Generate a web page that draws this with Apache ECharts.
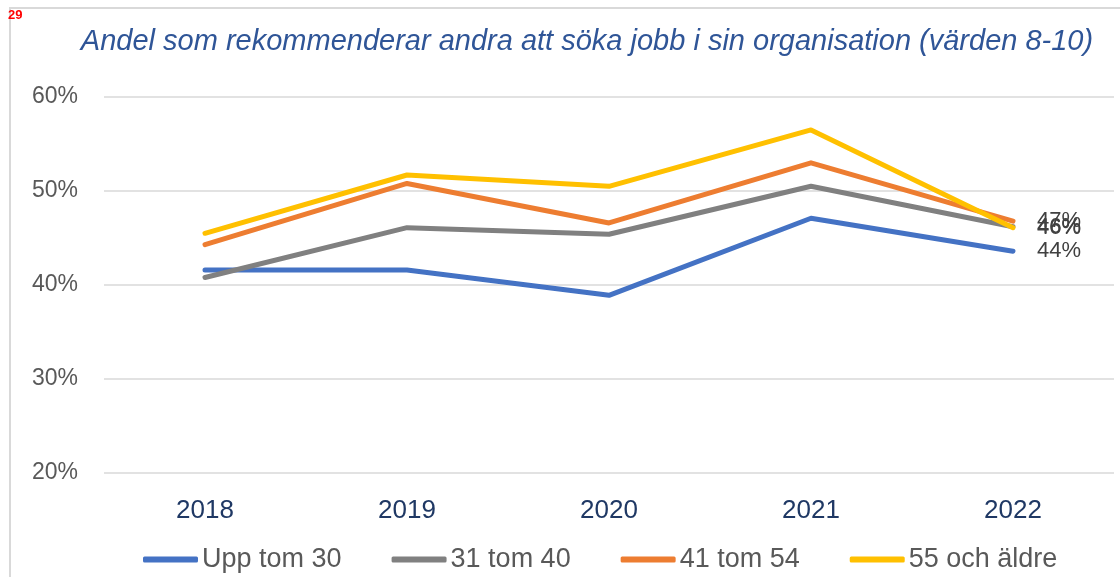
<!DOCTYPE html>
<html>
<head>
<meta charset="utf-8">
<script src="https://cdn.jsdelivr.net/npm/echarts@6/dist/echarts.min.js"></script>
<style>
  html, body { margin: 0; padding: 0; background: #fff; }
  #chart { width: 1120px; height: 577px; }
</style>
</head>
<body>
<div id="chart"></div>
<script>
// data
const years = ['2018', '2019', '2020', '2021', '2022']
const seriesNames = ['Upp tom 30', '31 tom 40', '41 tom 54', '55 och äldre']
const upptom30 = [41.6, 41.6, 38.9, 47.1, 43.6]
const tom40 = [40.8, 46.1, 45.4, 50.5, 46.2]
const tom54 = [44.3, 50.8, 46.6, 53.0, 46.8]
const aldre55 = [45.5, 51.7, 50.5, 56.5, 46.1]
const yTicks = [20, 30, 40, 50, 60]

const colors = ['#4472C4', '#808080', '#ED7D31', '#FFC000']
const FONT = '"Liberation Sans", Arial, sans-serif'

const chart = echarts.init(document.getElementById('chart'))

const makeSeries = (name, vals, color) => ({
  name: name,
  type: 'line',
  data: vals,
  symbol: 'none',
  lineStyle: { width: 5, color: color, cap: 'round', join: 'round' },
  itemStyle: { color: color },
  // value label only at the last point
  endLabel: {
    show: true,
    distance: 24,
    fontFamily: FONT,
    fontSize: 22,
    color: '#404040',
    formatter: (p) => Math.round(p.value) + '%'
  },
  labelLayout: { hideOverlap: false },
  emphasis: { disabled: true }
})

const option = {
  animation: false,
  color: colors,
  graphic: [
    {
      type: 'rect',
      z: -1,
      shape: { x: 10, y: 8, width: 1200, height: 700 },
      style: { fill: 'none', stroke: '#D9D9D9', lineWidth: 2 }
    },
    {
      type: 'text',
      style: {
        x: 8, y: 9, text: '29',
        font: 'bold 13px ' + FONT,
        fill: '#FF0000'
      }
    },
    {
      type: 'text',
      style: {
        x: 587, y: 42,
        text: 'Andel som rekommenderar andra att söka jobb i sin organisation (värden 8-10)',
        align: 'center',
        verticalAlign: 'middle',
        font: 'italic 29px ' + FONT,
        fill: '#2F5597'
      }
    }
  ],
  legend: {
    data: seriesNames,
    left: 138,
    top: 541,
    icon: 'roundRect',
    itemWidth: 55,
    itemHeight: 6,
    itemGap: 50,
    textStyle: { fontFamily: FONT, fontSize: 27, color: '#595959', padding: [0, 0, 0, -1] }
  },
  grid: { left: 104, right: 6, top: 97, bottom: 104, containLabel: false },
  xAxis: {
    type: 'category',
    data: years,
    boundaryGap: true,
    axisLine: { show: false },
    axisTick: { show: false },
    axisLabel: { fontFamily: FONT, fontSize: 26, color: '#1F3864', margin: 25 }
  },
  yAxis: {
    type: 'value',
    min: yTicks[0],
    max: yTicks[yTicks.length - 1],
    interval: 10,
    axisLine: { show: false },
    axisTick: { show: false },
    splitLine: { lineStyle: { color: '#D9D9D9', width: 1.5 } },
    axisLabel: { fontFamily: FONT, fontSize: 23, color: '#595959', margin: 26, formatter: '{value}%' }
  },
  series: [
    makeSeries(seriesNames[0], upptom30, colors[0]),
    makeSeries(seriesNames[1], tom40, colors[1]),
    makeSeries(seriesNames[2], tom54, colors[2]),
    makeSeries(seriesNames[3], aldre55, colors[3])
  ]
}

chart.setOption(option)
</script>
</body>
</html>
